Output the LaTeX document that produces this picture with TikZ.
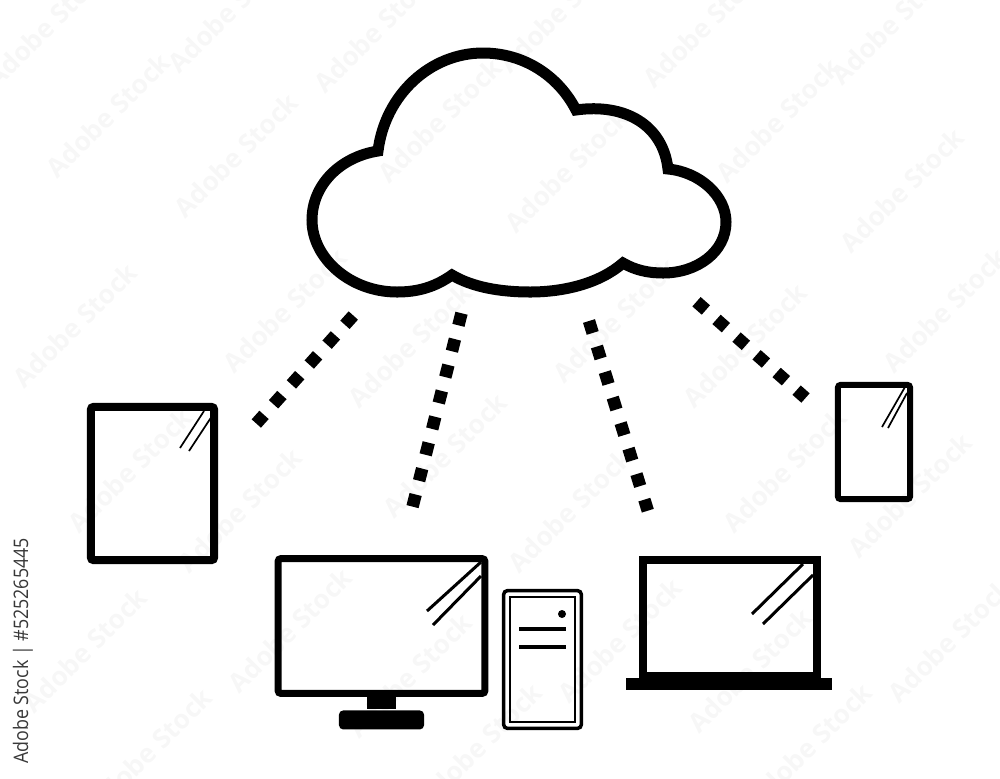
\documentclass[tikz,border=0pt]{standalone}
\usepackage{fontspec}
\setsansfont{Open Sans}
\usepackage{tikz}
\usetikzlibrary{positioning}
\tikzset{
  frame/.style = {rectangle, draw, fill=white, inner sep=0pt, rounded corners=0.7pt},
  block/.style = {rectangle, fill=black, inner sep=0pt},
  link/.style = {line width=0.125cm, dash pattern=on 0.125cm off 0.142cm},
  glare/.style = {line width=0.03cm},
  thinglare/.style = {line width=0.017cm},
  slot/.style = {line width=0.04cm},
  faint/.style = {rotate=45, font=\sffamily\bfseries\fontsize{7.5}{8}\selectfont, text=black!3, inner sep=0pt},
}
\begin{document}
\begin{tikzpicture}[x=0.01cm, y=-0.01cm]
  \useasboundingbox (0,0) rectangle (1000,778);

  % stock marks in the background
  \foreach \px/\py [count=\i] in {48/25, 230/10, 376/30, 561/10, 705/25, 893/22,
      108/115, 236/155, 440/120, 567/170, 778/120, 902/190,
      75/325, 285/310, 410/345, 615/320, 745/345, 945/310,
      130/470, 240/510, 445/455, 570/510, 785/470, 910/495,
      85/650, 290/630, 410/675, 620/640, 750/670, 950/640,
      150/750, 480/745, 810/745}
    \node (wm\i) [faint] at (\px,\py) {Adobe Stock};

  % cloud
  \draw [line width=0.11cm, miter limit=10] (378,151)
    .. controls (385,95) and (430,53) .. (483,53)
    .. controls (523,53) and (558,75) .. (576,110)
    .. controls (625,103) and (663,125) .. (668,169)
    .. controls (700,172) and (726,196) .. (726,222)
    .. controls (726,252) and (697,273) .. (663,273)
    .. controls (648,273) and (635,270) .. (623,263)
    .. controls (600,283) and (565,292) .. (530,292)
    .. controls (500,292) and (472,287) .. (452,275)
    .. controls (435,287) and (418,292) .. (397,292)
    .. controls (350,292) and (312,258) .. (312,220)
    .. controls (312,185) and (340,157) .. (378,151) -- cycle;

  % devices
  \node (tablet) [draw, rectangle, inner sep=0pt, rounded corners=0.7pt, line width=0.08cm, minimum width=1.23cm, minimum height=1.53cm] at (152.5,483.5) {};
  \node (phone) [draw, rectangle, inner sep=0pt, rounded corners=0.7pt, line width=0.06cm, minimum width=0.72cm, minimum height=1.14cm] at (874,442) {};
  \node (monitor) [draw, rectangle, inner sep=0pt, rounded corners=0.7pt, line width=0.07cm, minimum width=2.065cm, minimum height=1.345cm] at (381.5,626) {};
  \node (stand) [block, minimum width=0.29cm, minimum height=0.13cm] at (381.5,702.5) {};
  \node (foot) [block, rounded corners=1.2pt, minimum width=0.85cm, minimum height=0.19cm, below=0pt of stand] {};
  \node (tower) [draw, rectangle, inner sep=0pt, line width=0.035cm, minimum width=0.775cm, minimum height=1.375cm, rounded corners=1pt] at (542.5,659.5) {};
  \node (towerin) [rectangle, draw, line width=0.017cm, inner sep=0pt, minimum width=0.65cm, minimum height=1.25cm] at (542.5,659.5) {};
  \node (led) [circle, fill=black, inner sep=0pt, minimum size=0.08cm] at (562,614) {};
  \node (screen) [rectangle, draw, line width=0.08cm, inner sep=0pt, minimum width=1.74cm, minimum height=1.16cm] at (730,618) {};
  \node (hinge) [block, minimum width=1.82cm, minimum height=0.06cm] at (730,675) {};
  \node (base) [block, minimum width=2.06cm, minimum height=0.12cm] at (729,684) {};

  % reflections
  \draw [glare] (481,562) -- (427,611);
  \draw [glare] (481,576) -- (433,625);
  \draw [glare] (803,564) -- (752,614);
  \draw [glare] (813,575) -- (763,624);
  \draw [thinglare] (905,387) -- (882,427);
  \draw [thinglare] (907,393) -- (888,428);
  \draw [thinglare] (204,411) -- (180,448);
  \draw [thinglare] (210.7,418) -- (189,451);

  % tower slots
  \draw [slot] (519,629) -- (566,629);
  \draw [slot] (519,647) -- (566,647);

  % links
  \coordinate (c1) at (353.3,315.5);
  \coordinate (t1) at (256.3,423.5);
  \coordinate (c2) at (461.5,313.2);
  \coordinate (t2) at (412.5,506.8);
  \coordinate (c3) at (589,321);
  \coordinate (t3) at (647.8,510.7);
  \coordinate (c4) at (696.5,301.7);
  \coordinate (t4) at (805.5,398);
  \draw [link] (c1) -- (t1);
  \draw [link] (c2) -- (t2);
  \draw [link] (c3) -- (t3);
  \draw [link] (c4) -- (t4);

  % stock number
  \node (stockid) [rotate=90, xscale=0.89, font=\sffamily\fontsize{5.7}{6}\selectfont, text=black!78, inner sep=0pt] at (23,651) {Adobe Stock | \#525265445};
\end{tikzpicture}
\end{document}
